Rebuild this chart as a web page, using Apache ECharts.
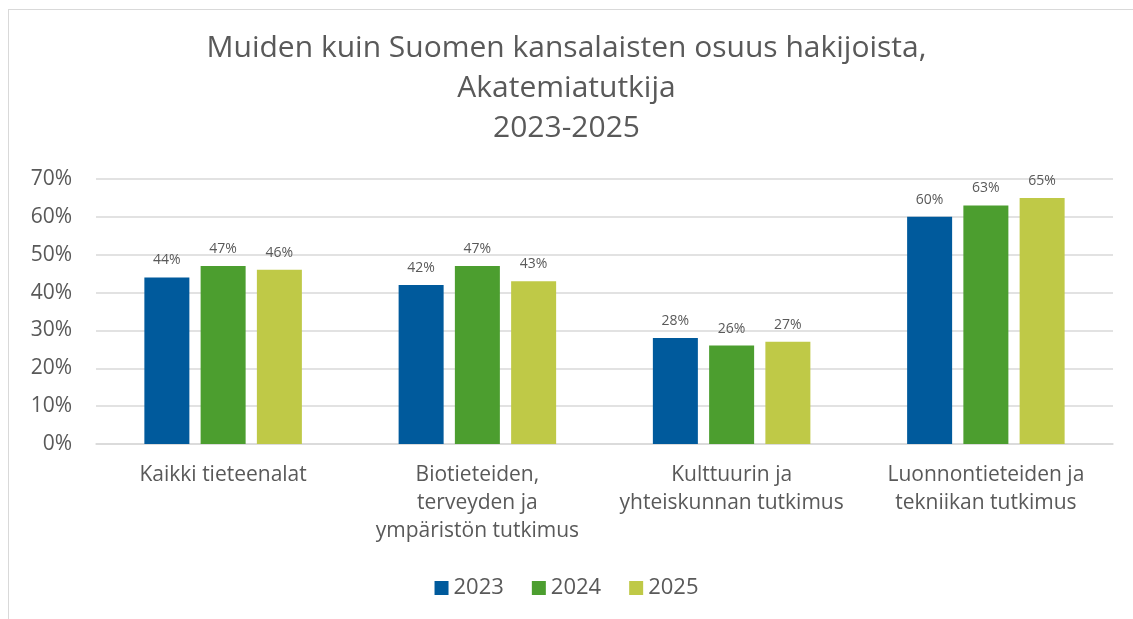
<!DOCTYPE html>
<html>
<head>
<meta charset="utf-8">
<script src="https://cdn.jsdelivr.net/npm/echarts@6/dist/echarts.min.js"></script>
<style>
  html, body { margin: 0; padding: 0; background: #fff; overflow: hidden; }
  #frame { position: absolute; left: 8px; top: 9px; width: 1200px; height: 700px; border: 1px solid #d9d9d9; box-sizing: border-box; }
  #chart { position: absolute; left: 0; top: 0; width: 1133px; height: 619px; }
</style>
</head>
<body>
<div id="frame"></div>
<div id="chart"></div>
<script>
const categories = [
  'Kaikki tieteenalat',
  'Biotieteiden,\nterveyden ja\nympäristön tutkimus',
  'Kulttuurin ja\nyhteiskunnan tutkimus',
  'Luonnontieteiden ja\ntekniikan tutkimus'
]
const years = ['2023', '2024', '2025']
const values2023 = [44, 42, 28, 60]
const values2024 = [47, 47, 26, 63]
const values2025 = [46, 43, 27, 65]
const yTicks = [0, 10, 20, 30, 40, 50, 60, 70]

const COLORS = ['#005a9c', '#4c9e2f', '#bfc947']
const FONT = 'Open Sans'
const TEXT = '#595959'

const chart = echarts.init(document.getElementById('chart'))

const series = [values2023, values2024, values2025].map((vals, i) => ({
  name: years[i],
  type: 'bar',
  data: vals,
  barWidth: '17.7%',
  barGap: '25%',
  itemStyle: { color: COLORS[i] },
  label: {
    show: true,
    position: 'top',
    distance: 10,
    formatter: p => p.value + '%',
    fontFamily: FONT,
    fontSize: 14,
    color: TEXT
  }
}))

chart.setOption({
  animation: false,
  title: {
    text: 'Muiden kuin Suomen kansalaisten osuus hakijoista,\nAkatemiatutkija\n2023-2025',
    left: 'center',
    top: 23,
    textStyle: { fontFamily: FONT, fontSize: 30, fontWeight: 'normal', color: TEXT, lineHeight: 40 }
  },
  legend: {
    data: years,
    bottom: 15,
    left: 'center',
    icon: 'rect',
    itemWidth: 14,
    itemHeight: 14,
    itemGap: 28,
    itemStyle: { borderWidth: 0 },
    textStyle: { fontFamily: FONT, fontSize: 22, color: TEXT }
  },
  grid: { left: 96, right: 20, top: 179, bottom: 175, containLabel: false },
  xAxis: {
    type: 'category',
    data: categories,
    axisLine: { show: true, lineStyle: { color: '#d9d9d9', width: 1.5 } },
    axisTick: { show: false },
    axisLabel: {
      fontFamily: FONT, fontSize: 21, color: TEXT, lineHeight: 28, margin: 17,
      interval: 0
    }
  },
  yAxis: {
    type: 'value',
    min: yTicks[0],
    max: yTicks[yTicks.length - 1],
    interval: 10,
    axisLine: { show: false },
    axisTick: { show: false },
    splitLine: { lineStyle: { color: '#d9d9d9', width: 1.5 } },
    axisLabel: { formatter: '{value}%', fontFamily: FONT, fontSize: 21, color: TEXT, margin: 24 }
  },
  series
})
</script>
</body>
</html>
